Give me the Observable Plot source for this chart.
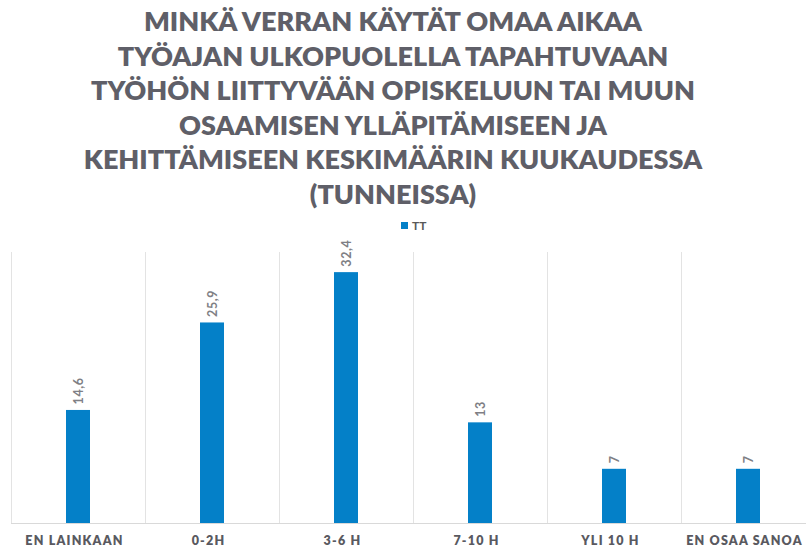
<!DOCTYPE html>
<html>
<head>
<meta charset="utf-8">
<script src="https://cdn.jsdelivr.net/npm/d3@7"></script>
<script src="https://cdn.jsdelivr.net/npm/@observablehq/plot@0.6"></script>
<style>
  html, body { margin: 0; padding: 0; background: #fff; }
  body { width: 806px; height: 546px; overflow: hidden; position: relative; font-family: Lato, "DejaVu Sans", sans-serif; }
  #title { position: absolute; left: 0; top: 4px; width: 786px; text-align: center; color: #5f5f68; font-weight: 800; font-size: 27px; line-height: 34.5px; }
  #title div { white-space: nowrap; }
  #legend { position: absolute; top: 218px; left: 401px; font-size: 12px; color: #595959; font-weight: 700; display: flex; align-items: center; gap: 4px; }
  #legend .sw { width: 7px; height: 7px; background: #0480c8; display: inline-block; }
  #chart { position: absolute; left: 0; top: 240px; }
  g[aria-description="xlabels"] text { letter-spacing: 1.2px; }
  g[aria-description="vlabels"] text { letter-spacing: 0.6px; }
</style>
</head>
<body>
<div id="title"></div>
<div id="legend"></div>
<div id="chart"></div>
<script>
const titleLines = [
  "MINKÄ VERRAN KÄYTÄT OMAA AIKAA",
  "TYÖAJAN ULKOPUOLELLA TAPAHTUVAAN",
  "TYÖHÖN LIITTYVÄÄN OPISKELUUN TAI MUUN",
  "OSAAMISEN YLLÄPITÄMISEEN JA",
  "KEHITTÄMISEEN KESKIMÄÄRIN KUUKAUDESSA",
  "(TUNNEISSA)"
];
const seriesName = "TT";
const categories = ["EN LAINKAAN", "0-2H", "3-6 H", "7-10 H", "YLI 10 H", "EN OSAA SANOA"];
const values = [14.6, 25.9, 32.4, 13, 7, 7];

const titleEl = document.getElementById("title");
for (const line of titleLines) {
  const d = document.createElement("div");
  d.textContent = line;
  titleEl.appendChild(d);
}
document.getElementById("legend").innerHTML = '<span class="sw"></span><span>' + seriesName + '</span>';

const data = categories.map((c, i) => ({cat: c, val: values[i], label: String(values[i]).replace(".", ",")}));

const chart = Plot.plot({
  width: 806,
  height: 306,
  marginTop: 12,
  marginBottom: 23,
  marginLeft: 11,
  marginRight: 0,
  style: {fontFamily: "Lato, 'DejaVu Sans', sans-serif", background: "#fff"},
  x: {domain: categories, range: [11, 815], padding: 0, axis: null},
  y: {domain: [0, 35], axis: null},
  marks: [
    Plot.ruleX(categories, {x: d => d, dx: -67, y1: 0, y2: 35, stroke: "#e3e3e3", strokeWidth: 1}),
    Plot.barY(data, {x: "cat", y: "val", fill: "#0480c8", insetLeft: 55, insetRight: 55}),
    Plot.ruleY([0], {stroke: "#d9d9d9", strokeWidth: 1}),
    Plot.text(data, {x: "cat", y: "val", text: "label", rotate: -90, textAnchor: "start", dy: -6, fill: "#7f7f85", fontSize: 12.5, fontWeight: 700, ariaDescription: "vlabels"}),
    Plot.text(data, {x: "cat", y: 0, text: "cat", dy: 17, dx: -4, fill: "#595960", fontSize: 12.5, fontWeight: 800, ariaDescription: "xlabels"})
  ]
});
document.getElementById("chart").appendChild(chart);
</script>
</body>
</html>
